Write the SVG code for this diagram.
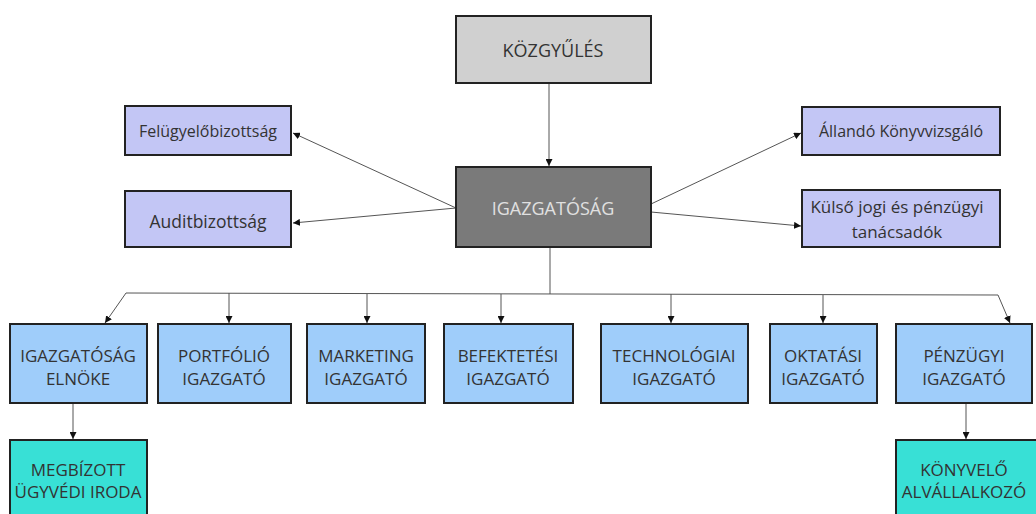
<svg xmlns="http://www.w3.org/2000/svg" width="1036" height="514" viewBox="0 0 1036 514">
<defs>
<marker id="ah" viewBox="0 0 10 10" refX="10" refY="5" markerWidth="7" markerHeight="7" markerUnits="userSpaceOnUse" orient="auto">
<path d="M0,0 L10,5 L0,10 z" fill="#111"/>
</marker>
<style>
text{font-family:"Open Sans","Noto Sans","Liberation Sans",sans-serif;fill:#333;text-anchor:middle}
.box{stroke:#222;stroke-width:2}
.gray{fill:#d0d0d0}
.dark{fill:#7a7a7a}
.purple{fill:#c3c6f5}
.blue{fill:#9fcdfa}
.teal{fill:#38e0d6}
.c line,.c path{stroke:#555;stroke-width:1;fill:none}
.a{marker-end:url(#ah)}
</style>
</defs>
<rect width="1036" height="514" fill="#fff"/>
<g class="c">
<line class="a" x1="549" y1="83" x2="549" y2="166"/>
<line class="a" x1="456" y1="208" x2="293" y2="133"/>
<line class="a" x1="456" y1="208" x2="293" y2="223"/>
<line class="a" x1="651" y1="204" x2="801" y2="133"/>
<line class="a" x1="651" y1="212" x2="801" y2="226"/>
<line x1="550" y1="247" x2="550" y2="294"/>
<line x1="126" y1="293" x2="998" y2="295"/>
<line class="a" x1="126" y1="293" x2="105" y2="323"/>
<line class="a" x1="998" y1="295" x2="1010" y2="323"/>
<line class="a" x1="229" y1="293" x2="229" y2="323"/>
<line class="a" x1="367" y1="294" x2="367" y2="323"/>
<line class="a" x1="501" y1="294" x2="501" y2="323"/>
<line class="a" x1="671" y1="294" x2="671" y2="323"/>
<line class="a" x1="823" y1="295" x2="823" y2="323"/>
<line class="a" x1="73" y1="404" x2="73" y2="439"/>
<line class="a" x1="966" y1="404" x2="966" y2="439"/>
</g>
<g id="kozgyules"><rect class="box gray" x="456" y="16" width="195" height="67"/><text x="553" y="57" font-size="18">KÖZGYŰLÉS</text></g>
<g id="igazgatosag"><rect class="box dark" x="456" y="167" width="195" height="80"/><text x="553" y="215" font-size="18" style="fill:#e0e0e0">IGAZGATÓSÁG</text></g>
<g id="felugyelo"><rect class="box purple" x="125" y="106" width="166" height="49"/><text x="208" y="137" font-size="16">Felügyelőbizottság</text></g>
<g id="audit"><rect class="box purple" x="125" y="191" width="166" height="56"/><text x="208" y="228" font-size="17.5">Auditbizottság</text></g>
<g id="allando"><rect class="box purple" x="802" y="107" width="198" height="48"/><text x="901" y="137" font-size="16">Állandó Könyvvizsgáló</text></g>
<g id="kulso"><rect class="box purple" x="802" y="190" width="198" height="57"/><text x="897" y="213" font-size="17">Külső jogi és pénzügyi</text><text x="897" y="238" font-size="17">tanácsadók</text></g>
<g id="elnok"><rect class="box blue" x="10" y="324" width="137" height="79"/><text x="78" y="362" font-size="17">IGAZGATÓSÁG</text><text x="78" y="385" font-size="17">ELNÖKE</text></g>
<g id="portfolio"><rect class="box blue" x="158" y="324" width="133" height="79"/><text x="224" y="362" font-size="17">PORTFÓLIÓ</text><text x="224" y="385" font-size="17">IGAZGATÓ</text></g>
<g id="marketing"><rect class="box blue" x="307" y="324" width="118" height="79"/><text x="366" y="362" font-size="17">MARKETING</text><text x="366" y="385" font-size="17">IGAZGATÓ</text></g>
<g id="befektetesi"><rect class="box blue" x="444" y="324" width="129" height="79"/><text x="508" y="362" font-size="17">BEFEKTETÉSI</text><text x="508" y="385" font-size="17">IGAZGATÓ</text></g>
<g id="technologiai"><rect class="box blue" x="601" y="324" width="147" height="79"/><text x="674" y="362" font-size="17">TECHNOLÓGIAI</text><text x="674" y="385" font-size="17">IGAZGATÓ</text></g>
<g id="oktatasi"><rect class="box blue" x="770" y="324" width="107" height="79"/><text x="823" y="362" font-size="17">OKTATÁSI</text><text x="823" y="385" font-size="17">IGAZGATÓ</text></g>
<g id="penzugyi"><rect class="box blue" x="896" y="324" width="136" height="79"/><text x="964" y="362" font-size="17">PÉNZÜGYI</text><text x="964" y="385" font-size="17">IGAZGATÓ</text></g>
<g id="megbizott"><rect class="box teal" x="10" y="440" width="137" height="80"/><text x="78" y="476" font-size="17">MEGBÍZOTT</text><text x="78" y="498" font-size="17">ÜGYVÉDI IRODA</text></g>
<g id="konyvelo"><rect class="box teal" x="896" y="440" width="145" height="80"/><text x="964" y="476" font-size="17">KÖNYVELŐ</text><text x="964" y="498" font-size="17">ALVÁLLALKOZÓ</text></g>
</svg>
